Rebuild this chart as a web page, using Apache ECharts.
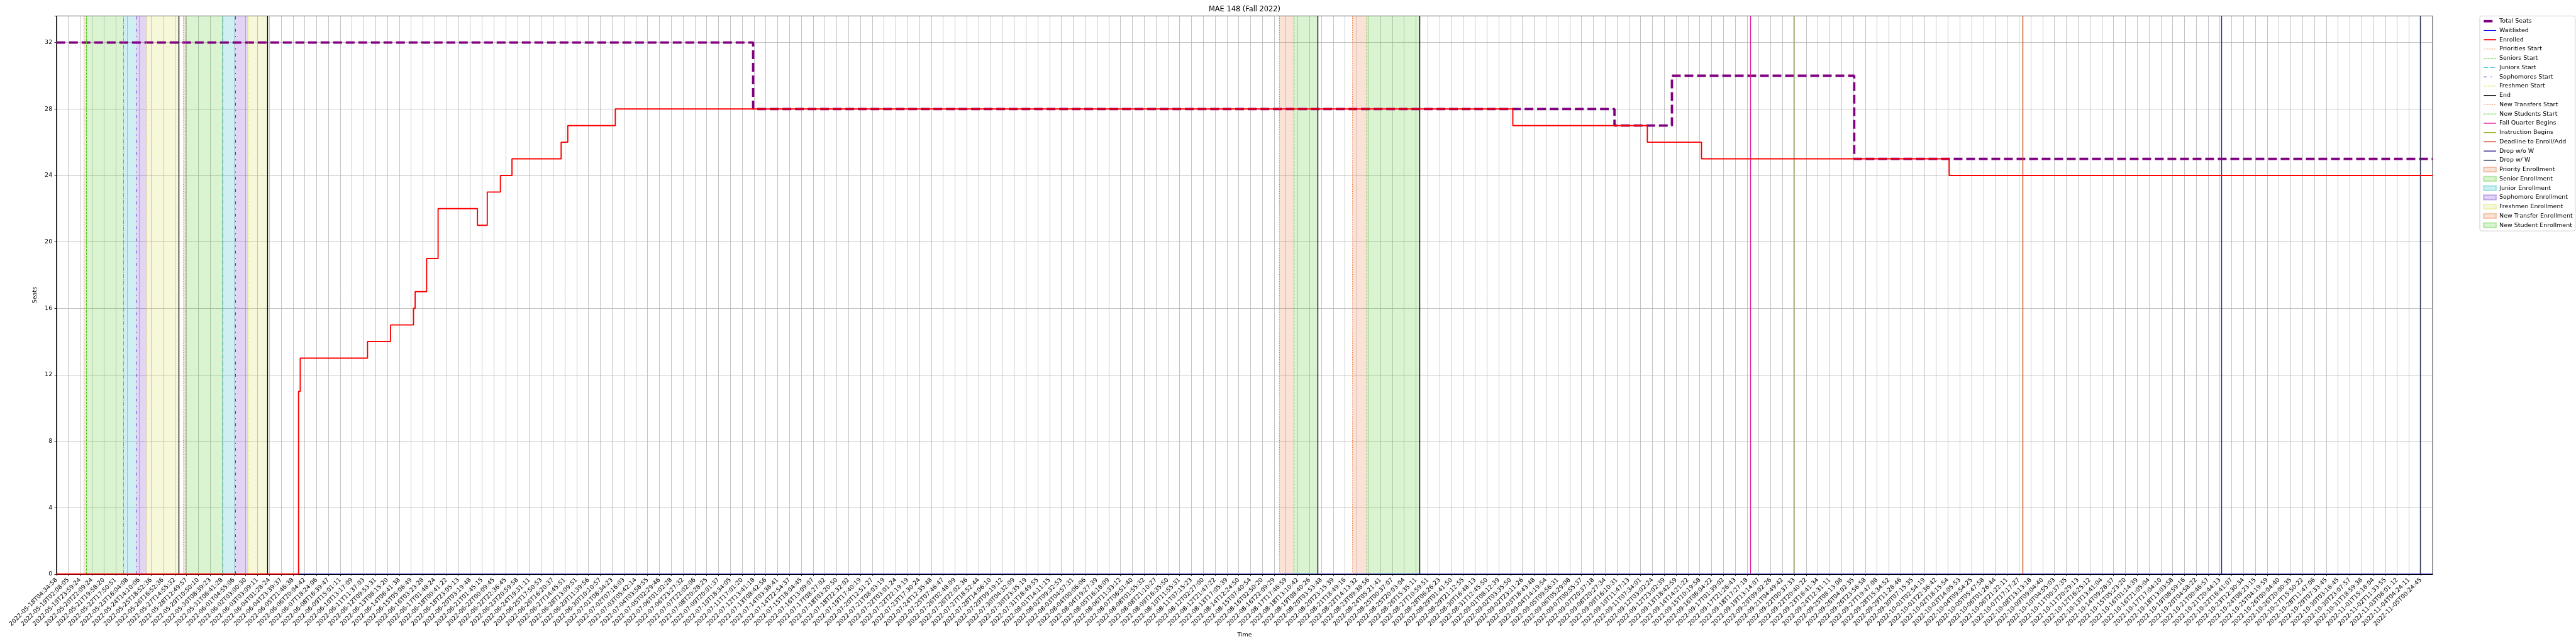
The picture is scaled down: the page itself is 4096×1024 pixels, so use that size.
<!DOCTYPE html>
<html><head><meta charset="utf-8">
<script src="https://cdn.jsdelivr.net/npm/echarts@6/dist/echarts.min.js"></script>
<style>html,body{margin:0;padding:0;background:#fff}#c{width:4096px;height:1024px}</style>
</head><body><div id="c"></div>
<script>
// ---- tick labels (one per x tick, index-based axis) ----
const tickLabels = [
"2022-05-18T04:34:58","2022-05-19T02:08:05","2022-05-19T23:59:24","2022-05-20T22:09:24","2022-05-21T19:58:20",
"2022-05-22T17:50:51","2022-05-23T16:04:08","2022-05-24T14:10:06","2022-05-25T18:52:36","2022-05-26T16:52:36",
"2022-05-27T14:55:32","2022-05-28T12:49:57","2022-05-29T10:50:10","2022-05-30T08:39:23","2022-05-31T06:41:28",
"2022-06-01T04:55:06","2022-06-02T03:00:30","2022-06-03T03:09:11","2022-06-04T01:28:24","2022-06-04T23:39:37",
"2022-06-05T21:46:38","2022-06-06T20:04:42","2022-06-07T18:24:06","2022-06-08T16:39:47","2022-06-09T15:01:11",
"2022-06-10T13:17:09","2022-06-11T11:37:03","2022-06-12T09:53:31","2022-06-13T08:15:20","2022-06-14T06:41:38",
"2022-06-15T05:06:49","2022-06-16T03:23:28","2022-06-17T01:48:24","2022-06-18T00:41:22","2022-06-18T23:05:13",
"2022-06-20T03:19:48","2022-06-21T01:45:15","2022-06-22T00:09:45","2022-06-22T22:36:45","2022-06-23T20:59:58",
"2022-06-24T19:31:11","2022-06-25T17:50:53","2022-06-26T16:20:37","2022-06-27T14:45:51","2022-06-28T13:09:51",
"2022-06-29T11:39:56","2022-06-30T10:10:57","2022-07-01T08:34:23","2022-07-02T07:16:03","2022-07-03T05:42:14",
"2022-07-04T03:58:55","2022-07-05T02:29:46","2022-07-06T01:02:28","2022-07-06T23:27:32","2022-07-07T22:02:06",
"2022-07-08T20:28:25","2022-07-09T20:01:37","2022-07-10T18:34:05","2022-07-11T17:01:20","2022-07-12T13:41:18",
"2022-07-13T08:42:56","2022-07-14T03:38:41","2022-07-14T22:54:37","2022-07-15T18:04:45","2022-07-16T13:09:07",
"2022-07-17T08:27:02","2022-07-18T03:20:50","2022-07-18T22:32:02","2022-07-19T17:40:19","2022-07-20T12:51:27",
"2022-07-21T08:03:19","2022-07-22T03:01:24","2022-07-22T22:19:19","2022-07-23T17:30:24","2022-07-24T12:35:48",
"2022-07-25T07:46:47","2022-07-26T02:48:09","2022-07-26T22:02:36","2022-07-27T18:52:44","2022-07-28T14:06:10",
"2022-07-29T09:19:12","2022-07-30T04:32:09","2022-07-30T23:35:19","2022-07-31T18:49:55","2022-08-01T14:11:15",
"2022-08-02T09:32:53","2022-08-03T04:57:31","2022-08-04T00:06:06","2022-08-04T19:27:39","2022-08-05T16:18:09",
"2022-08-06T11:33:12","2022-08-07T06:51:40","2022-08-08T01:55:32","2022-08-08T21:10:27","2022-08-09T16:35:50",
"2022-08-10T11:55:31","2022-08-11T07:15:23","2022-08-12T02:27:00","2022-08-12T21:47:22","2022-08-13T17:05:39",
"2022-08-14T12:24:50","2022-08-15T07:40:54","2022-08-16T02:50:20","2022-08-16T22:09:29","2022-08-17T17:46:59",
"2022-08-18T13:10:42","2022-08-19T08:40:26","2022-08-20T03:53:48","2022-08-20T23:15:39","2022-08-21T18:49:16",
"2022-08-22T14:13:32","2022-08-23T09:38:56","2022-08-24T05:21:41","2022-08-25T00:37:07","2022-08-25T20:03:04",
"2022-08-26T15:35:11","2022-08-27T10:59:51","2022-08-28T06:26:23","2022-08-29T01:41:50","2022-08-29T21:12:55",
"2022-08-30T16:48:13","2022-08-31T12:45:50","2022-09-01T08:12:39","2022-09-02T03:35:50","2022-09-02T23:11:26",
"2022-09-03T18:43:48","2022-09-04T14:19:54","2022-09-05T09:56:31","2022-09-06T05:29:08","2022-09-07T00:55:37",
"2022-09-07T20:37:18","2022-09-08T20:27:34","2022-09-09T16:10:31","2022-09-10T11:47:13","2022-09-11T07:34:01",
"2022-09-12T03:02:24","2022-09-12T23:02:39","2022-09-13T18:42:59","2022-09-14T14:21:22","2022-09-15T10:19:58",
"2022-09-16T06:04:22","2022-09-17T01:39:02","2022-09-17T21:26:43","2022-09-18T17:27:18","2022-09-19T13:14:07",
"2022-09-20T09:02:26","2022-09-21T04:49:42","2022-09-22T00:37:33","2022-09-22T20:40:22","2022-09-23T16:41:34",
"2022-09-24T12:31:11","2022-09-25T08:13:08","2022-09-26T04:02:35","2022-09-26T23:56:58","2022-09-27T19:47:08",
"2022-09-28T15:34:52","2022-09-29T11:28:46","2022-09-30T07:15:35","2022-10-01T02:54:19","2022-10-01T22:36:42",
"2022-10-02T18:15:54","2022-10-03T14:05:53","2022-10-04T09:54:25","2022-10-05T05:47:58","2022-10-06T01:26:44",
"2022-10-06T21:22:11","2022-10-07T17:17:27","2022-10-08T13:13:18","2022-10-09T09:04:40","2022-10-10T04:55:03",
"2022-10-11T00:37:35","2022-10-11T20:29:13","2022-10-12T16:25:12","2022-10-13T13:41:04","2022-10-14T09:28:37",
"2022-10-15T05:23:20","2022-10-16T01:14:39","2022-10-16T21:05:04","2022-10-17T17:04:10","2022-10-18T13:03:58",
"2022-10-19T08:59:16","2022-10-20T04:58:22","2022-10-21T00:46:57","2022-10-21T20:44:13","2022-10-22T16:41:07",
"2022-10-23T12:30:34","2022-10-24T08:23:15","2022-10-25T04:19:59","2022-10-26T00:04:40","2022-10-26T20:00:35",
"2022-10-27T15:50:22","2022-10-28T11:47:06","2022-10-29T07:33:45","2022-10-30T03:16:45","2022-10-30T23:07:57",
"2022-10-31T18:59:38","2022-11-01T15:18:04","2022-11-02T11:33:55","2022-11-03T08:01:12","2022-11-04T04:24:11",
"2022-11-05T00:24:45"
];
const xMax = 201;          // axis extent in tick-index units
const yTicks = [0, 4, 8, 12, 16, 20, 24, 28, 32];

// ---- step series: position (tick-index units) where value changes, and new value ----
const seatsPos = [0, 58.93, 131.79, 136.65, 152.07, 201];
const seatsVal = [32, 28, 27, 30, 25, 25];
const waitPos  = [0, 201];
const waitVal  = [0, 0];
const enrolledPos = [0, 20.48, 20.62, 26.31, 28.26, 30.2, 30.34, 31.31, 32.28, 35.61, 36.44, 37.55, 38.53, 42.69, 43.25, 47.27, 123.19, 134.57, 139.15, 160.1, 201];
const enrolledVal = [0, 11, 13, 14, 15, 16, 17, 19, 22, 21, 23, 24, 25, 26, 27, 28, 27, 26, 25, 24, 24];

// ---- event markers (tick-index units) ----
const prioritiesStart   = [2.33, 10.74];
const seniorsStart      = [2.52, 10.95];
const juniorsStart      = [5.65, 14.05];
const sophomoresStart   = [6.73, 15.15];
const freshmenStart     = [7.64, 16.18];
const continuingEnd     = [10.32, 17.82];
const newTransfersStart = [103.42, 109.62];
const newStudentsStart  = [104.69, 110.85];
const newEnd            = [106.68, 115.32];
const fallQuarterBegins = [143.3];
const instructionBegins = [146.97];
const deadlineEnroll    = [166.3];
const dropNoW           = [183.15];
const dropW             = [199.97];

const FONT = 'DejaVu Sans';
const zip = (a, b) => a.map((v, i) => [v, b[i]]);

const stepSeries = (name, pos, val, color, width, type, z) => ({
  name, type: 'line', step: 'end', symbol: 'none', z,
  data: zip(pos, val),
  itemStyle: { color }, lineStyle: { color, width, type },
  emphasis: { disabled: true }
});
const vline = (name, xs, color, width, type) => ({
  name, type: 'line', data: [], symbol: 'none', z: 6,
  itemStyle: { color }, lineStyle: { color, width, type },
  markLine: {
    silent: true, symbol: ['none', 'none'], label: { show: false },
    emphasis: { disabled: true },
    lineStyle: { color, width, type },
    data: xs.map(x => ({ xAxis: x }))
  }
});
const span = (name, ranges, color, border) => ({
  name, type: 'line', data: [], symbol: 'none', z: 1,
  itemStyle: { color, borderColor: border, borderWidth: 0.7 }, lineStyle: { color, width: 0 },
  markArea: {
    silent: true, itemStyle: { color }, emphasis: { disabled: true },
    data: ranges.map(r => [{ xAxis: r[0] }, { xAxis: r[1] }])
  }
});

const cPri = '#f26b2e', cSen = '#44cc1a', cJun = '#17c3d6', cSop = '#6a22d6', cFre = '#dede2a';
const aPri = 'rgba(232,110,50,0.20)', aSen = 'rgba(70,200,30,0.20)', aJun = 'rgba(15,180,195,0.20)',
      aSop = 'rgba(105,40,200,0.20)', aFre = 'rgba(215,220,70,0.20)';

const series = [
  span('Priority Enrollment', zip(prioritiesStart, seniorsStart), aPri, 'rgba(232,110,50,0.35)'),
  span('Senior Enrollment', zip(seniorsStart, juniorsStart), aSen, 'rgba(70,200,30,0.35)'),
  span('Junior Enrollment', zip(juniorsStart, sophomoresStart), aJun, 'rgba(15,180,195,0.35)'),
  span('Sophomore Enrollment', zip(sophomoresStart, freshmenStart), aSop, 'rgba(105,40,200,0.35)'),
  span('Freshmen Enrollment', zip(freshmenStart, continuingEnd), aFre, 'rgba(215,220,70,0.35)'),
  span('New Transfer Enrollment', zip(newTransfersStart, newStudentsStart), aPri, 'rgba(232,110,50,0.35)'),
  span('New Student Enrollment', zip(newStudentsStart, newEnd), aSen, 'rgba(70,200,30,0.35)'),
  stepSeries('Total Seats', seatsPos, seatsVal, '#800080', 3.75, [14, 6], 3),
  stepSeries('Waitlisted', waitPos, waitVal, '#0000ff', 1.0, 'solid', 4),
  stepSeries('Enrolled', enrolledPos, enrolledVal, '#ff0000', 1.9, 'solid', 5),
  vline('Priorities Start', prioritiesStart, cPri, 1.0, [1, 1.75]),
  vline('Seniors Start', seniorsStart, cSen, 1.0, [3.8, 1.6]),
  vline('Juniors Start', juniorsStart, cJun, 1.0, [6.5, 1.6, 1, 1.6]),
  vline('Sophomores Start', sophomoresStart, cSop, 1.0, [4.5, 6.5, 1.8, 6.8]),
  vline('Freshmen Start', freshmenStart, cFre, 1.0, [3, 1.6, 1, 1.6]),
  vline('End', continuingEnd.concat(newEnd), '#000000', 1.4, 'solid'),
  vline('New Transfers Start', newTransfersStart, cPri, 1.0, [1, 1.75]),
  vline('New Students Start', newStudentsStart, cSen, 1.0, [3.8, 1.6]),
  vline('Fall Quarter Begins', fallQuarterBegins, '#e0169c', 1.4, 'solid'),
  vline('Instruction Begins', instructionBegins, '#8fb01a', 1.4, 'solid'),
  vline('Deadline to Enroll/Add', deadlineEnroll, '#d2441e', 1.4, 'solid'),
  vline('Drop w/o W', dropNoW, '#2c2290', 1.4, 'solid'),
  vline('Drop w/ W', dropW, '#2e3a58', 1.4, 'solid')
];

const legendOrder = ['Total Seats','Waitlisted','Enrolled','Priorities Start','Seniors Start','Juniors Start',
  'Sophomores Start','Freshmen Start','End','New Transfers Start','New Students Start','Fall Quarter Begins',
  'Instruction Begins','Deadline to Enroll/Add','Drop w/o W','Drop w/ W','Priority Enrollment','Senior Enrollment',
  'Junior Enrollment','Sophomore Enrollment','Freshmen Enrollment','New Transfer Enrollment','New Student Enrollment'];

const hiddenSymbol = { color: 'rgba(0,0,0,0)', borderColor: 'rgba(0,0,0,0)', borderWidth: 0, opacity: 0 };

const chart = echarts.init(document.getElementById('c'), null, { renderer: 'canvas', width: 4096, height: 1024 });
chart.setOption({
  animation: false,
  backgroundColor: '#ffffff',
  textStyle: { fontFamily: FONT },
  title: {
    text: 'MAE 148 (Fall 2022)', left: 1979, top: 9.5, textAlign: 'center', padding: 0,
    textStyle: { fontFamily: FONT, fontSize: 11.4, fontWeight: 'normal', color: '#000' }
  },
  grid: { left: 89.8, right: 227.9, top: 25.4, bottom: 111.2, show: true, borderColor: '#000', borderWidth: 1, backgroundColor: 'transparent' },
  xAxis: {
    type: 'value', min: 0, max: xMax, interval: 1,
    name: 'Time', nameLocation: 'middle', nameGap: 88,
    nameTextStyle: { fontFamily: FONT, fontSize: 9.5, color: '#000' },
    axisLine: { show: true, onZero: false, lineStyle: { color: '#000', width: 1 } },
    axisTick: { show: true, length: 3.3, lineStyle: { color: '#000', width: 0.8 } },
    axisLabel: {
      rotate: 45, margin: 8, fontFamily: FONT, fontSize: 9.5, color: '#000',
      showMaxLabel: false,
      formatter: v => tickLabels[Math.round(v)] || ''
    },
    splitLine: { show: true, lineStyle: { color: '#b0b0b0', width: 0.75 } }
  },
  yAxis: {
    type: 'value', min: 0, max: 33.6, interval: 4,
    name: 'Seats', nameLocation: 'middle', nameGap: 28, nameRotate: 90,
    nameTextStyle: { fontFamily: FONT, fontSize: 9.5, color: '#000' },
    axisLine: { show: true, lineStyle: { color: '#000', width: 1 } },
    axisTick: { show: true, length: 3.3, lineStyle: { color: '#000', width: 0.8 } },
    axisLabel: {
      margin: 6.6, fontFamily: FONT, fontSize: 9.5, color: '#000',
      formatter: v => (yTicks.indexOf(v) >= 0 ? String(v) : '')
    },
    splitLine: { show: true, lineStyle: { color: '#b0b0b0', width: 0.75 } }
  },
  legend: {
    orient: 'vertical', left: 3943, top: 25.4, padding: [3.3, 4, 4, 4.4],
    itemWidth: 19.8, itemHeight: 7.3, itemGap: 4.75,
    backgroundColor: 'rgba(255,255,255,0.8)', borderColor: '#cccccc', borderWidth: 1, borderRadius: 3,
    textStyle: { fontFamily: FONT, fontSize: 9.5, color: '#000' },
    lineStyle: { width: 'inherit' },
    selectedMode: false,
    data: legendOrder.map(n => n.indexOf('Enrollment') >= 0
      ? { name: n, icon: 'rect' }
      : { name: n, itemStyle: hiddenSymbol })
  },
  series
});
</script>
</body></html>
